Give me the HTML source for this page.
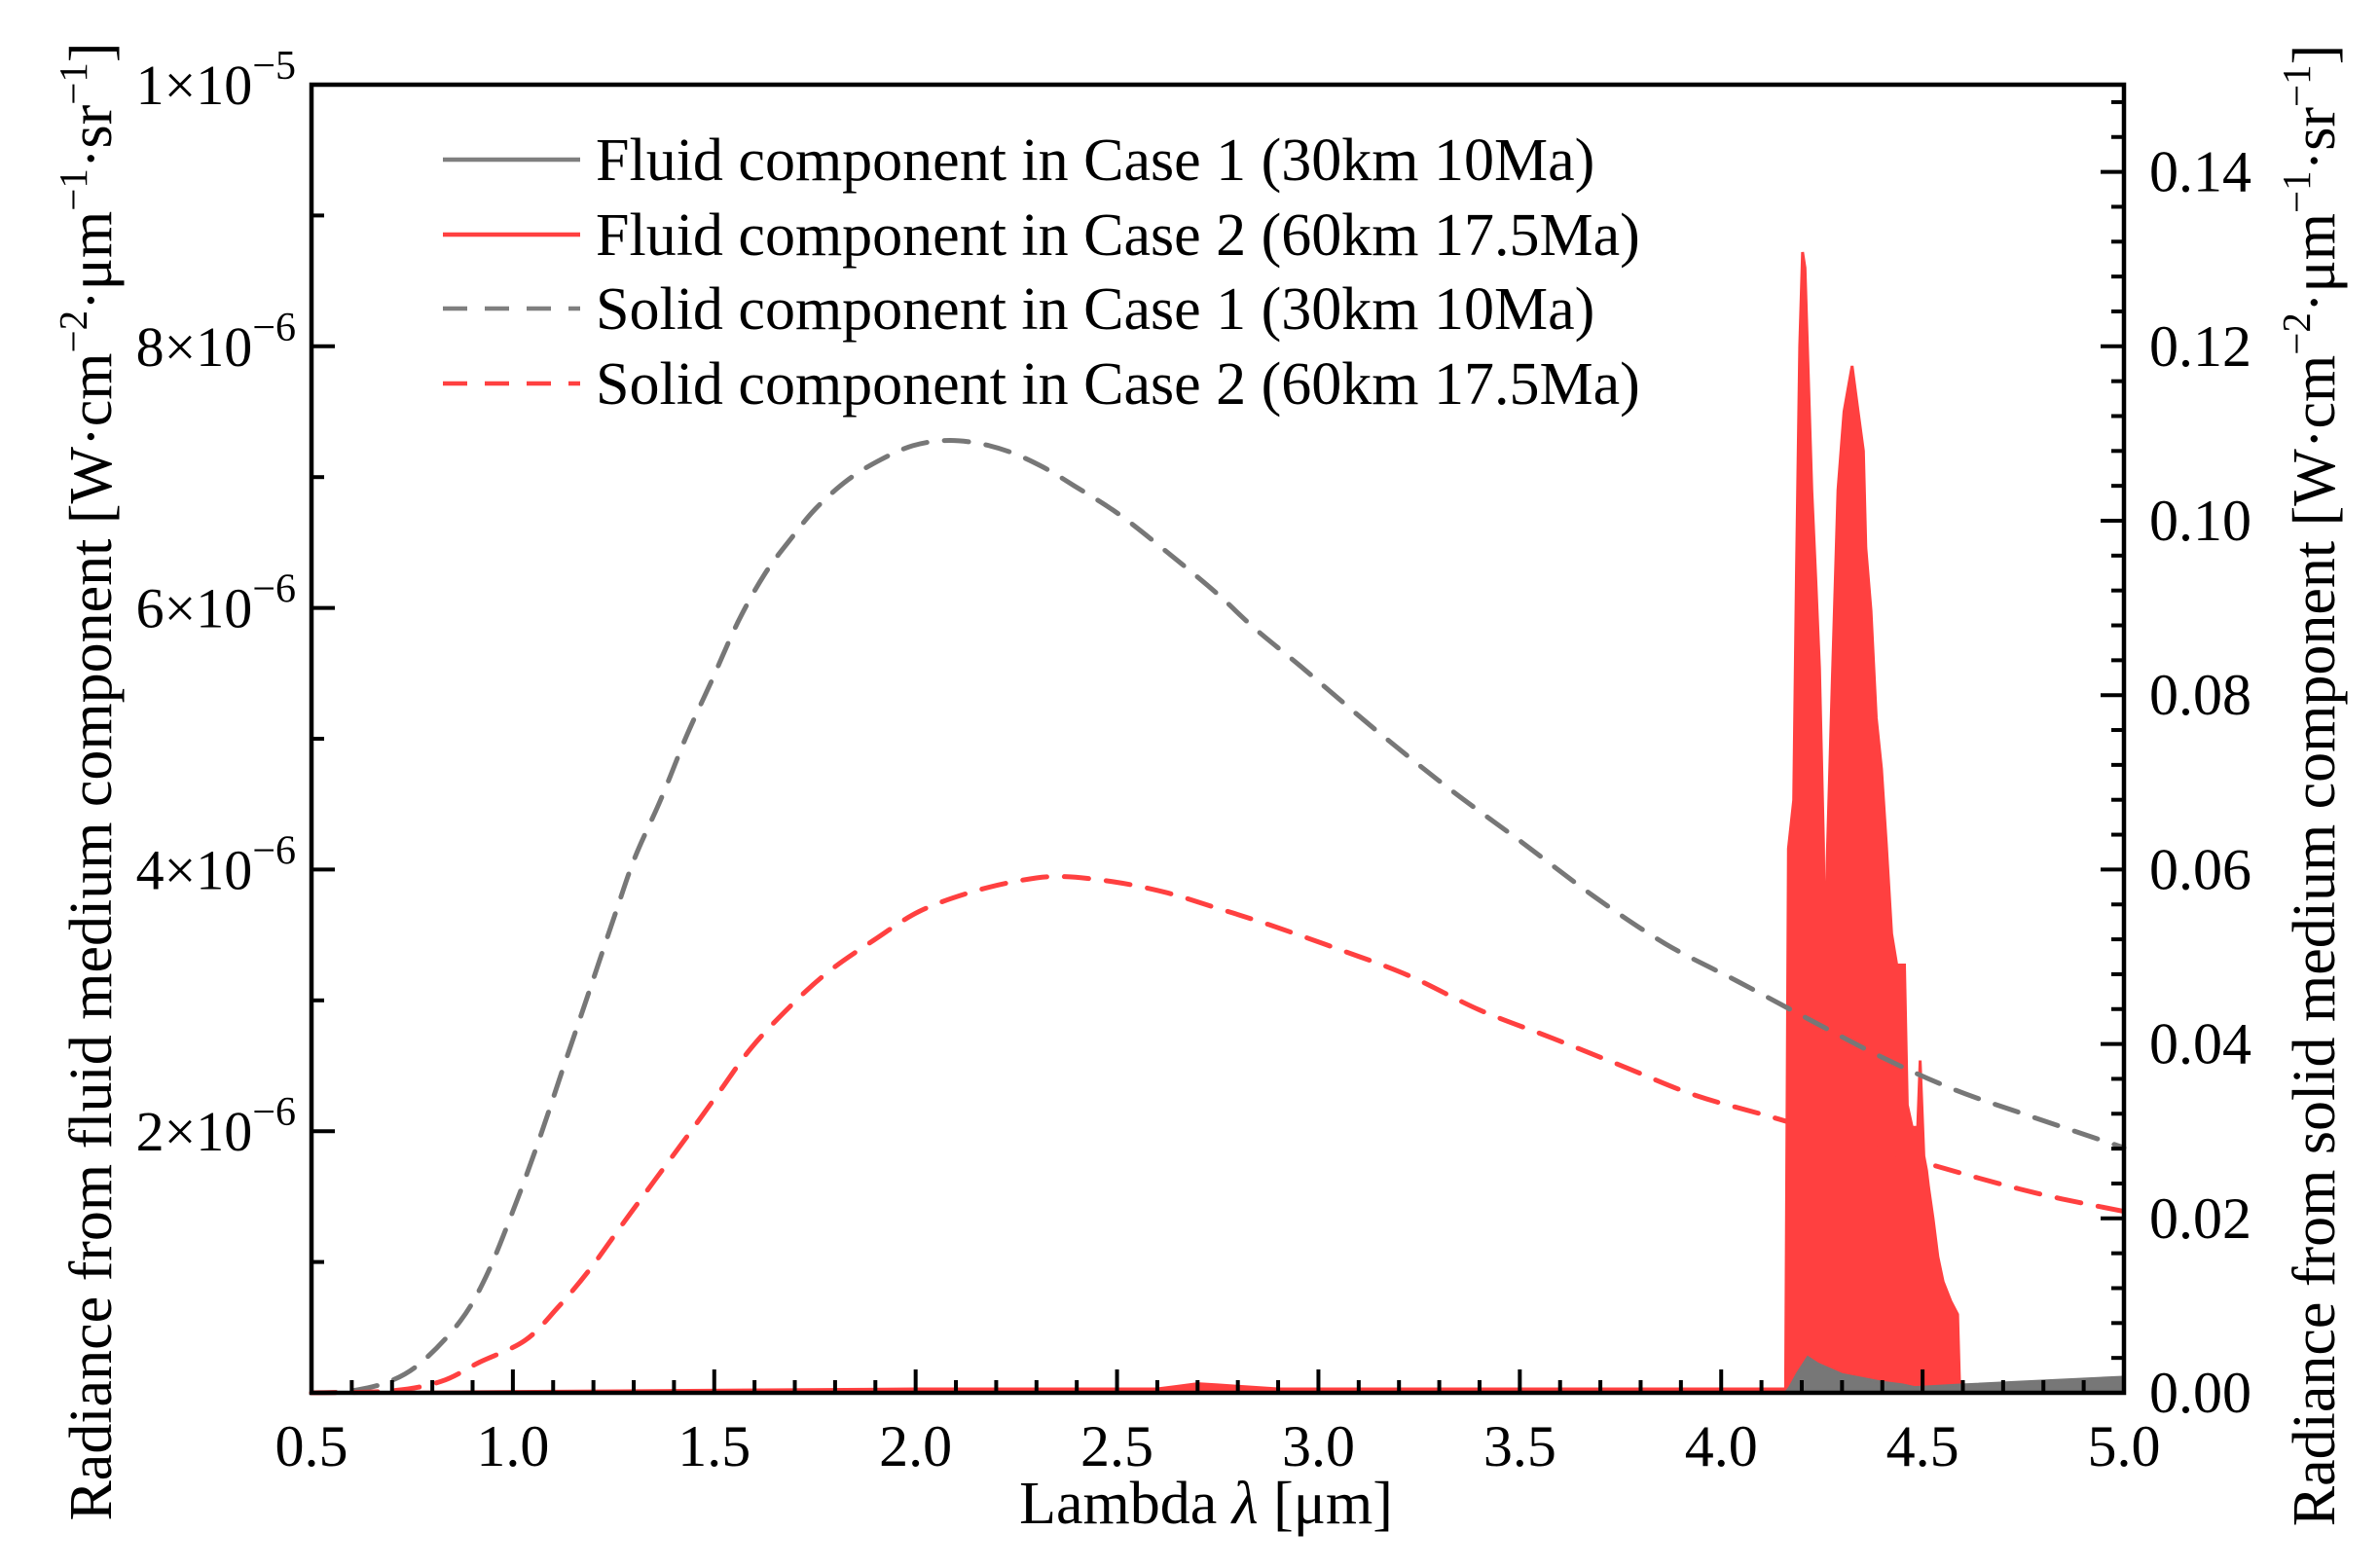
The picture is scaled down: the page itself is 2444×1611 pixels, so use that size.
<!DOCTYPE html>
<html><head><meta charset="utf-8"><style>
html,body{margin:0;padding:0;background:#fff}
svg{display:block;font-family:"Liberation Serif",serif}
</style></head><body>
<svg id="chart" width="2444" height="1611" viewBox="0 0 2444 1611" style="position:absolute;left:0;top:0">
<g id="marks"></g>
<g id="axes"></g>
</svg>
<script>
// ---- data ----
const solid1X = [0.5,0.596,0.693,0.773,0.869,0.933,0.998,1.062,1.126,1.19,1.254,1.303,1.367,1.431,1.495,1.559,1.624,1.688,1.752,1.832,1.913,1.993,2.073,2.153,2.233,2.314,2.394,2.506,2.635,2.747,2.843,2.956,3.145,3.324,3.503,3.682,3.861,4.04,4.219,4.398,4.577,4.756,5.0];
const solidCase1 = [0.0,0.0002,0.0013,0.0035,0.0082,0.0133,0.0206,0.0286,0.0374,0.0461,0.0549,0.0614,0.0680,0.0753,0.0818,0.0884,0.0938,0.0978,0.1014,0.1047,0.1070,0.1086,0.1092,0.1089,0.1079,0.1062,0.1040,0.1007,0.0960,0.0917,0.0876,0.0833,0.0759,0.0693,0.0632,0.0570,0.0515,0.0472,0.0428,0.0385,0.0348,0.0319,0.0281];
const solid2X = [0.5,0.693,0.821,0.917,1.03,1.11,1.19,1.27,1.351,1.431,1.511,1.591,1.688,1.784,1.896,2.009,2.137,2.266,2.362,2.49,2.619,2.747,2.876,3.042,3.221,3.40,3.579,3.758,3.937,4.142,4.526,4.782,5.0];
const solidCase2 = [0.0,0.0002,0.0013,0.0035,0.0060,0.0097,0.0141,0.0192,0.0243,0.0293,0.0344,0.0395,0.0443,0.0483,0.0519,0.0552,0.0574,0.0588,0.0592,0.0586,0.0574,0.0556,0.0537,0.0510,0.0479,0.0439,0.0407,0.0374,0.0341,0.0314,0.0261,0.0229,0.0208];
const fluidX = [0.5,2.0,2.6,2.65,2.7,2.75,2.8,2.85,2.9,4.16,4.167,4.180,4.187,4.195,4.202,4.208,4.215,4.225,4.235,4.244,4.254,4.257,4.263,4.276,4.29,4.305,4.325,4.34,4.353,4.359,4.372,4.385,4.398,4.41,4.423,4.436,4.455,4.462,4.474,4.488,4.494,4.503,4.510,4.515,4.526,4.538,4.551,4.57,4.587,4.592,5.0];
const fluidCase2 = [0.0,0.03,0.03,0.05,0.07,0.06,0.05,0.04,0.03,0.03,4.16,4.53,6.3,8.0,8.72,8.6,7.9,6.9,6.2,5.54,4.19,3.12,4.05,5.45,6.9,7.5,7.85,7.5,7.2,6.46,5.98,5.16,4.77,4.19,3.51,3.27,3.27,2.2,2.03,2.03,2.54,1.81,1.7,1.57,1.33,1.04,0.85,0.70,0.60,0.03,0.03];
const fluidCase1X = [0.5,4.16,4.17,4.19,4.215,4.24,4.27,4.3,4.35,4.4,4.45,4.48,4.6,4.8,5.0];
const fluidCase1 = [0.0,0.0,0.04,0.15,0.27,0.22,0.18,0.14,0.11,0.08,0.06,0.04,0.06,0.09,0.12];
const xTicks = ["0.5","1.0","1.5","2.0","2.5","3.0","3.5","4.0","4.5","5.0"];
const yLeftTicks = [2,4,6,8,10];
const yRightTicks = ["0.00","0.02","0.04","0.06","0.08","0.10","0.12","0.14"];

// ---- axes ----
const L=320,R=2182,T=87,B=1431;
const xs=v=>L+(v-0.5)/4.5*(R-L);
const yl=v=>B-v/10*(B-T);          // units of 1e-6
const yr=v=>B-v/0.15*(B-T);
const NS="http://www.w3.org/2000/svg";
const marks=document.getElementById('marks');
const axes=document.getElementById('axes');
function mk(tag,attrs,parent){const e=document.createElementNS(NS,tag);for(const k in attrs)e.setAttribute(k,attrs[k]);parent.appendChild(e);return e;}

let d=`M${xs(fluidX[0])},${B}`;
fluidX.forEach((x,i)=>{d+=` L${xs(x).toFixed(1)},${yl(fluidCase2[i]).toFixed(1)}`;});
d+=` L${xs(fluidX[fluidX.length-1])},${B} Z`;
const f2=mk('path',{d:d,fill:'#ff4040',stroke:'#ff4040','stroke-width':3},marks);



let d1=`M${xs(fluidCase1X[0])},${B}`;
fluidCase1X.forEach((x,i)=>{d1+=` L${xs(x).toFixed(1)},${yl(fluidCase1[i]).toFixed(1)}`;});
d1+=` L${xs(5)},${B} Z`;
const f1=mk('path',{d:d1,fill:'#777',stroke:'#777','stroke-width':3},marks);



function smoothPath(xv,vals){
  const p=xv.map((x,i)=>[xs(x),yr(vals[i])]);
  let s=`M${p[0][0].toFixed(1)},${p[0][1].toFixed(1)}`;
  for(let i=0;i<p.length-1;i++){
    const p0=p[Math.max(0,i-1)],p1=p[i],p2=p[i+1],p3=p[Math.min(p.length-1,i+2)];
    const c1=[p1[0]+(p2[0]-p0[0])/6,p1[1]+(p2[1]-p0[1])/6];
    const c2=[p2[0]-(p3[0]-p1[0])/6,p2[1]-(p3[1]-p1[1])/6];
    s+=` C${c1[0].toFixed(1)},${c1[1].toFixed(1)} ${c2[0].toFixed(1)},${c2[1].toFixed(1)} ${p2[0].toFixed(1)},${p2[1].toFixed(1)}`;
  }
  return s;
}
const s1=mk('path',{d:smoothPath(solid1X,solidCase1),fill:'none',stroke:'#777','stroke-width':5,'stroke-dasharray':'25 18','stroke-linecap':'round'},marks);


const s2=mk('path',{d:smoothPath(solid2X,solidCase2),fill:'none',stroke:'#ff4040','stroke-width':5,'stroke-dasharray':'25 18','stroke-linecap':'round'},marks);



const fr=mk('rect',{x:L,y:T,width:R-L,height:B-T,fill:'none',stroke:'#000','stroke-width':4.5},axes);



for(let i=0;i<=45;i++){const v=0.5+i*0.1;const x=xs(v);const maj=i%5===0;
 mk('line',{x1:x,x2:x,y1:B,y2:B-(maj?24:13),stroke:'#000','stroke-width':4},axes);}
xTicks.forEach(t=>{const e=mk('text',{x:xs(parseFloat(t)),y:1506,'text-anchor':'middle','font-size':60},axes);e.textContent=t;
 
 });
for(let i=0;i<=10;i++){const y=yl(i);const maj=i%2===0;
 mk('line',{x1:L,x2:L+(maj?24:13),y1:y,y2:y,stroke:'#000','stroke-width':4},axes);}
yLeftTicks.forEach(v=>{const e=mk('text',{x:304,y:yl(v)+20,'text-anchor':'end','font-size':58},axes);
 const m=v===10?'1':String(v);const ex=v===10?'−5':'−6';
 e.innerHTML=`${m}×10<tspan dy="-26" font-size="42">${ex}</tspan>`;
 
 });
for(let i=0;i<=37;i++){const v=i*0.004;if(v>0.1501)break;const y=yr(v);const maj=i%5===0;
 mk('line',{x1:R,x2:R-(maj?24:13),y1:y,y2:y,stroke:'#000','stroke-width':4},axes);}
yRightTicks.forEach(t=>{const e=mk('text',{x:2208,y:yr(parseFloat(t))+20,'font-size':60},axes);e.textContent=t;
 
 });
</script>
<svg style="position:absolute;left:0;top:0" width="2444" height="1611" viewBox="0 0 2444 1611">
<g font-family="Liberation Serif, serif">
<text x="1239" y="1565" text-anchor="middle" font-size="62">Lambda <tspan font-style="italic">λ</tspan> [μm]</text>
<text transform="translate(114,803) rotate(-90)" text-anchor="middle" font-size="62">Radiance from fluid medium component [W·cm<tspan dy="-25" font-size="41">−2</tspan><tspan dy="25">·μm</tspan><tspan dy="-25" font-size="41">−1</tspan><tspan dy="25">·sr</tspan><tspan dy="-25" font-size="41">−1</tspan><tspan dy="25">]</tspan></text>
<text transform="translate(2398,807) rotate(-90)" text-anchor="middle" font-size="62">Radiance from solid medium component [W·cm<tspan dy="-25" font-size="41">−2</tspan><tspan dy="25">·μm</tspan><tspan dy="-25" font-size="41">−1</tspan><tspan dy="25">·sr</tspan><tspan dy="-25" font-size="41">−1</tspan><tspan dy="25">]</tspan></text>
<g>
<line x1="455" x2="596" y1="164" y2="164" stroke="#7f7f7f" stroke-width="4.5"/>
<line x1="455" x2="596" y1="241" y2="241" stroke="#ff4040" stroke-width="4.5"/>
<line x1="455" x2="596" y1="317" y2="317" stroke="#7f7f7f" stroke-width="4.5" stroke-dasharray="25 18"/>
<line x1="455" x2="596" y1="394" y2="394" stroke="#ff4040" stroke-width="4.5" stroke-dasharray="25 18"/>
<text x="612" y="185" font-size="62">Fluid component in Case 1 (30km 10Ma)</text>
<text x="612" y="262" font-size="62">Fluid component in Case 2 (60km 17.5Ma)</text>
<text x="612" y="338" font-size="62">Solid component in Case 1 (30km 10Ma)</text>
<text x="612" y="415" font-size="62">Solid component in Case 2 (60km 17.5Ma)</text>
</g>
</g>
</svg>
</body></html>
